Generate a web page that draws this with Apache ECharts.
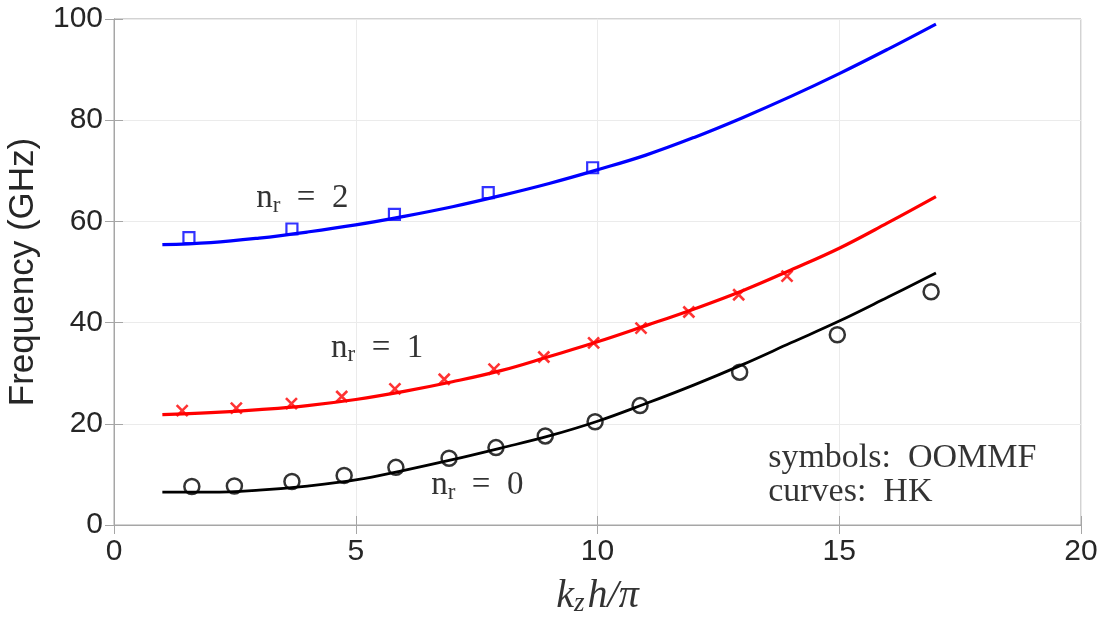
<!DOCTYPE html>
<html>
<head>
<meta charset="utf-8">
<script src="https://cdn.jsdelivr.net/npm/echarts@6/dist/echarts.min.js"></script>
<style>html,body{margin:0;padding:0;background:#fff}#c{width:1104px;height:619px}</style>
</head>
<body>
<div id="c"></div>
<script>
// ---- data ----
const xTicks = [0, 5, 10, 15, 20];
const yTicks = [0, 20, 40, 60, 80, 100];

// HK curves (sampled at k_z h / pi = 1..17)
const curveK = [1, 2, 3, 4, 5, 6, 7, 8, 9, 10, 11, 12, 13, 14, 15, 16, 17];
const curveN2 = [55.4, 55.8, 56.7, 57.9, 59.3, 61.0, 62.9, 65.1, 67.5, 70.2, 73.1, 76.6, 80.5, 84.7, 89.2, 94.0, 99.0];
const curveN1 = [21.8, 22.2, 22.8, 23.6, 24.8, 26.4, 28.3, 30.5, 33.3, 36.2, 39.4, 42.7, 46.3, 50.4, 54.7, 59.7, 64.9];
const curveN0 = [6.5, 6.5, 6.9, 7.7, 8.9, 10.8, 12.9, 15.2, 17.6, 20.5, 24.0, 27.7, 31.7, 36.0, 40.3, 45.0, 49.8];

// OOMMF symbols
const symK2 = [1.55, 3.68, 5.80, 7.74, 9.90];
const symF2 = [56.8, 58.5, 61.4, 65.7, 70.6];
const symK1 = [1.41, 2.53, 3.67, 4.71, 5.81, 6.83, 7.86, 8.89, 9.92, 10.90, 11.89, 12.92, 13.92];
const symF1 = [22.6, 23.1, 24.0, 25.4, 26.9, 28.8, 30.8, 33.2, 36.0, 38.9, 42.1, 45.5, 49.2];
const symK0 = [1.61, 2.49, 3.68, 4.76, 5.83, 6.93, 7.90, 8.92, 9.95, 10.88, 12.94, 14.96, 16.90];
const symF0 = [7.6, 7.7, 8.6, 9.8, 11.4, 13.2, 15.3, 17.6, 20.4, 23.6, 30.2, 37.6, 46.1];

// annotation anchors (data coords) and texts
const annoN = [
  {k: 2.94, f: 64.6, n: '2'},
  {k: 4.49, f: 35.0, n: '1'},
  {k: 6.56, f: 7.9, n: '0'}
];
const noteLines = [
  {k: 13.53, f: 13.3, text: 'symbols:  OOMMF'},
  {k: 13.53, f: 6.6, text: 'curves:  HK'}
];

// ---- chart ----
const zip = (a, b) => a.map((v, i) => [v, b[i]]);
const serif = '"Liberation Serif", "DejaVu Serif", serif';
const sans = '"Liberation Sans", Arial, sans-serif';
const axisCol = '#a6a6a6';
const textCol = '#262626';

const chart = echarts.init(document.getElementById('c'));

const sub = {fontFamily: serif, fontSize: 23, color: '#000', lineHeight: 20, verticalAlign: 'bottom'};
const main = {fontFamily: serif, fontSize: 33, color: '#000', lineHeight: 38};

const option = {
  animation: false,
  backgroundColor: '#fff',
  grid: {left: 114, right: 23, top: 19, bottom: 94, show: true, borderColor: axisCol, borderWidth: 1,
    backgroundColor: 'transparent', containLabel: false, outerBoundsMode: 'none'},
  xAxis: [{
    type: 'value', min: 0, max: 20, interval: 5,
    axisLine: {show: true, onZero: false, lineStyle: {color: axisCol, width: 1}},
    axisTick: {show: true, inside: true, length: 9, lineStyle: {color: axisCol}},
    axisLabel: {fontFamily: sans, fontSize: 30, color: textCol, margin: 12,
      formatter: v => xTicks.includes(v) ? String(v) : ''},
    splitLine: {show: true, lineStyle: {color: '#ebebeb', width: 1}},
    name: '{k|k}{z|z}{k|h/π}',
    nameLocation: 'middle', nameGap: 50,
    nameTextStyle: {
      rich: {
        k: {fontFamily: serif, fontStyle: 'italic', fontSize: 40, color: '#333', lineHeight: 42},
        z: {fontFamily: serif, fontStyle: 'italic', fontSize: 27, color: '#333', lineHeight: 22, verticalAlign: 'bottom', padding: [0, 3, 0, 0]}
      }
    }
  }, {
    type: 'value', min: 0, max: 20, interval: 5, position: 'top',
    axisLine: {show: true, lineStyle: {color: axisCol}},
    axisTick: {show: true, inside: true, length: 9, lineStyle: {color: axisCol}},
    axisLabel: {show: false}, splitLine: {show: false}
  }],
  yAxis: [{
    type: 'value', min: 0, max: 100, interval: 20,
    axisLine: {show: true, onZero: false, lineStyle: {color: axisCol, width: 1}},
    axisTick: {show: true, inside: true, length: 9, lineStyle: {color: axisCol}},
    axisLabel: {fontFamily: sans, fontSize: 30, color: textCol, margin: 11,
      formatter: v => yTicks.includes(v) ? String(v) : ''},
    splitLine: {show: true, lineStyle: {color: '#ebebeb', width: 1}},
    name: 'Frequency (GHz)', nameLocation: 'middle', nameGap: 73,
    nameTextStyle: {fontFamily: sans, fontSize: 35, color: textCol}
  }, {
    type: 'value', min: 0, max: 100, interval: 20, position: 'right',
    axisLine: {show: true, lineStyle: {color: axisCol}},
    axisTick: {show: true, inside: true, length: 9, lineStyle: {color: axisCol}},
    axisLabel: {show: false}, splitLine: {show: false}
  }],
  series: [
    {type: 'line', data: zip(curveK, curveN2), smooth: 0.4, showSymbol: false, lineStyle: {color: '#0000ff', width: 3.2}, z: 3},
    {type: 'line', data: zip(curveK, curveN1), smooth: 0.4, showSymbol: false, lineStyle: {color: '#ff0000', width: 3.2}, z: 3},
    {type: 'line', data: zip(curveK, curveN0), smooth: 0.4, showSymbol: false, lineStyle: {color: '#000000', width: 2.8}, z: 3},
    {type: 'scatter', data: zip(symK2, symF2), symbol: 'rect', symbolSize: 11,
      itemStyle: {color: 'transparent', borderColor: '#0000ff', borderWidth: 2.2}, z: 4},
    {type: 'scatter', data: zip(symK1, symF1), symbol: 'path://M0,0L10,10M10,0L0,10', symbolSize: 11,
      itemStyle: {color: '#ff0000', borderColor: '#ff0000', borderWidth: 2.6}, z: 4},
    {type: 'scatter', data: zip(symK0, symF0), symbol: 'circle', symbolSize: 15,
      itemStyle: {color: 'transparent', borderColor: '#000000', borderWidth: 2.5}, z: 4},
    {type: 'scatter', data: annoN.map(a => [a.k, a.f, a.n]), symbolSize: 0, silent: true, z: 5,
      label: {show: true, position: 'inside', align: 'left', verticalAlign: 'middle',
        formatter: p => '{m|n}{s|r}{m|  =  ' + p.value[2] + '}',
        rich: {m: main, s: sub}}},
    {type: 'scatter', data: noteLines.map(a => [a.k, a.f, a.text]), symbolSize: 0, silent: true, z: 5,
      label: {show: true, position: 'inside', align: 'left', verticalAlign: 'middle',
        formatter: p => p.value[2],
        fontFamily: serif, fontSize: 34, color: '#000'}}
  ]
};
chart.setOption(option);
</script>
</body>
</html>
